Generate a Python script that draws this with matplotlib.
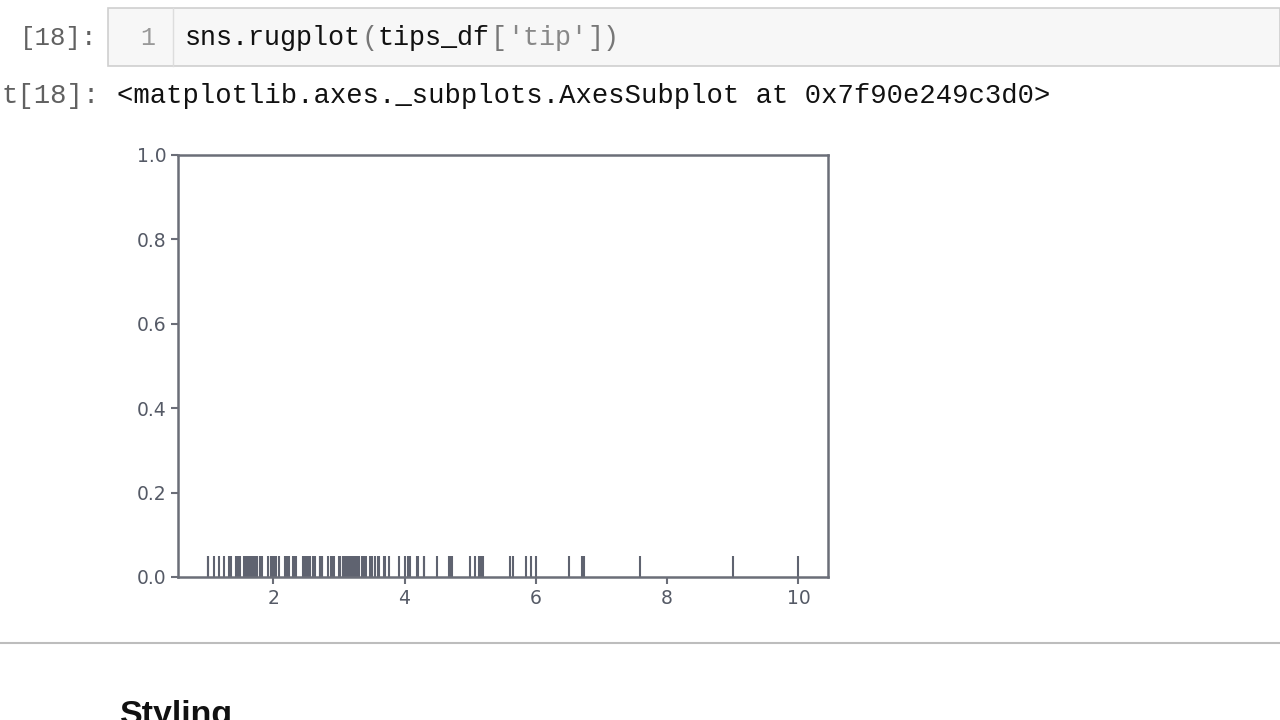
import matplotlib.pyplot as plt
from matplotlib.lines import Line2D
from matplotlib.patches import Rectangle

# distinct tip values
tips = [1.0, 1.01, 1.1, 1.17, 1.25, 1.32, 1.36, 1.44, 1.45, 1.47, 1.48, 1.5,
        1.56, 1.57, 1.58, 1.61, 1.63, 1.64, 1.66, 1.67, 1.68, 1.7, 1.71, 1.73,
        1.75, 1.76, 1.8, 1.83, 1.92, 1.96, 1.97, 1.98, 2.0, 2.01, 2.02, 2.03,
        2.05, 2.09, 2.18, 2.2, 2.23, 2.24, 2.3, 2.31, 2.34, 2.45, 2.47, 2.5,
        2.52, 2.54, 2.55, 2.56, 2.6, 2.64, 2.71, 2.72, 2.74, 2.75, 2.83, 2.88,
        2.9, 2.91, 2.92, 3.0, 3.02, 3.06, 3.07, 3.08, 3.09, 3.11, 3.12, 3.14,
        3.15, 3.16, 3.18, 3.21, 3.23, 3.25, 3.27, 3.31, 3.35, 3.39, 3.4, 3.41,
        3.48, 3.5, 3.51, 3.55, 3.6, 3.61, 3.68, 3.71, 3.76, 3.92, 4.0, 4.06,
        4.08, 4.19, 4.2, 4.29, 4.3, 4.5, 4.67, 4.71, 4.73, 5.0, 5.07, 5.14,
        5.15, 5.16, 5.17, 5.2, 5.6, 5.65, 5.85, 5.92, 6.0, 6.5, 6.7, 6.73,
        7.58, 9.0, 10.0]

code_parts = [("sns.rugplot", "#111111"), ("(", "#777777"), ("tips_df", "#111111"),
              ("[", "#777777"), ("'tip'", "#888888"), ("])", "#777777")]
out_text = "<matplotlib.axes._subplots.AxesSubplot at 0x7f90e249c3d0>"

W, H = 1280, 720
axis_col = "#6b6e78"
rug_col = "#5f6370"
mono = "Liberation Mono"
fs_code = 19.3
fs_out = 19.6


def px(x, y):
    return x / W, 1 - y / H


fig = plt.figure(figsize=(12.8, 7.2), dpi=100)

# notebook input cell
fig.patches.append(Rectangle(px(108, 66), (W - 108) / W, 58 / H, transform=fig.transFigure,
                             facecolor="#f7f7f7", edgecolor="#cfcfcf", lw=1.2))
fig.lines.append(Line2D([173 / W, 173 / W], [1 - 8 / H, 1 - 66 / H],
                        transform=fig.transFigure, color="#dddddd", lw=1))
fig.text(*px(97, 38), "[18]:", ha="right", va="center", family=mono,
         fontsize=18.5, color="#616161")
fig.text(*px(148, 38), "1", ha="center", va="center", family=mono,
         fontsize=18, color="#999999")
# monospace advance = 0.6 em, in pixels at 100 dpi
cw = 0.6 * fs_code * 100 / 72
pos = 0
for part, col in code_parts:
    fig.text(*px(185 + pos * cw, 38), part, ha="left", va="center", family=mono,
             fontsize=fs_code, color=col)
    pos += len(part)

# output prompt (left part is cut off by the screenshot)
fig.text(*px(1, 96), "t[18]:", ha="left", va="center", family=mono,
         fontsize=fs_out, color="#616161")
fig.text(*px(117, 96), out_text, ha="left", va="center", family=mono,
         fontsize=fs_out, color="#111111")

# rug plot
ax = fig.add_axes([178 / W, 1 - 577 / H, 650 / W, 422 / H])
ax.vlines(tips, 0, 0.05, color=rug_col, lw=1.5)
ax.set_xlim(0.55, 10.45)
ax.set_ylim(0, 1)
ax.set_xticks([2, 4, 6, 8, 10])
ax.set_yticks([0.0, 0.2, 0.4, 0.6, 0.8, 1.0])
for s in ax.spines.values():
    s.set_color(axis_col)
    s.set_linewidth(1.8)
ax.tick_params(colors=axis_col, labelcolor="#555a66", labelsize=13.5, length=5, width=1.5)

# separator and next heading
fig.lines.append(Line2D([0, 1], [1 - 643 / H] * 2, transform=fig.transFigure,
                        color="#bdbdbd", lw=1.5))
fig.text(*px(120, 700), "Styling", ha="left", va="top", family="Liberation Sans",
         fontweight="bold", fontsize=24.5, color="#111111")

fig.savefig("out.png", dpi=100)
